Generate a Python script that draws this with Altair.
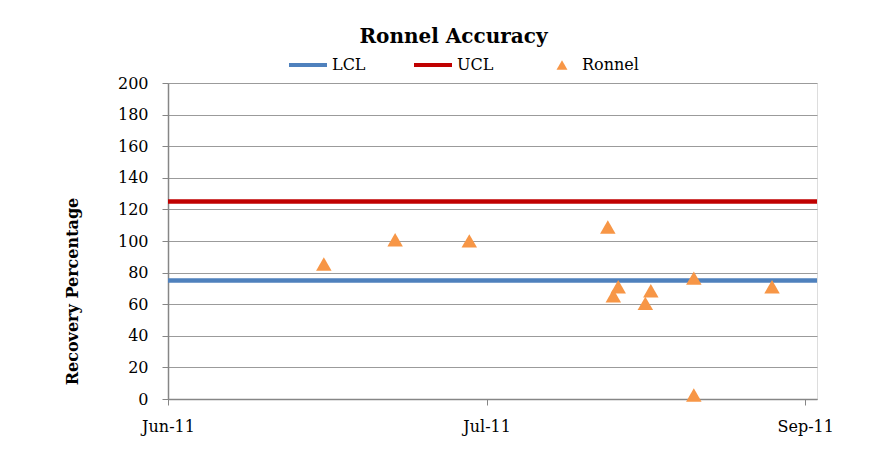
import altair as alt
import pandas as pd

# ---- data ----
limit_names = ["LCL", "UCL"]
limit_values = [75, 125]

sample_times = ["2011-06-23 12:00", "2011-07-03 19:00", "2011-07-14 12:00",
                "2011-08-03 12:00", "2011-08-04 07:00", "2011-08-05 00:00",
                "2011-08-08 22:00", "2011-08-09 17:00", "2011-08-15 22:00",
                "2011-08-15 22:00", "2011-08-27 05:00"]
recovery = [85.4, 100.8, 100.1, 108.9, 65.3, 71.0, 60.5, 68.5, 76.5, 2.5, 71.0]

tick_days = [0, 46, 92]
tick_labels = ["Jun-11", "Jul-11", "Sep-11"]
axis_start = "2011-06-01"
x_max_day = 93.7

origin = pd.Timestamp(axis_start)
pts = pd.DataFrame({
    "day": [(pd.Timestamp(d) - origin) / pd.Timedelta(days=1) for d in sample_times],
    "value": recovery,
    "series": ["Ronnel"] * len(recovery),
})
lims = pd.DataFrame({"series": limit_names, "value": limit_values})

FONT = "DejaVu Serif"
label_expr = " : ".join(
    [f"datum.value == {d} ? '{l}'" for d, l in zip(tick_days, tick_labels)]
) + " : ''"

x_axis = alt.Axis(values=tick_days, labelExpr=label_expr, grid=False, title=None,
                  tickSize=6, labelPadding=13, labelFont=FONT, labelFontSize=16,
                  labelColor="black", domainColor="#868686", tickColor="#868686",
                  domainWidth=1.5, labelFlush=False)
y_axis = alt.Axis(values=list(range(0, 201, 20)), title="Recovery Percentage",
                  titleFont=FONT, titleFontSize=16, titleFontWeight="bold",
                  titleColor="black", titleAngle=-90, titleX=-96, titleY=208,
                  titleAlign="center", titleBaseline="middle",
                  tickSize=6, labelPadding=14, labelFont=FONT, labelFontSize=16,
                  labelColor="black", domainColor="#868686", tickColor="#868686",
                  domainWidth=1.5, gridColor="#9B9B9B", gridWidth=1)

xscale = alt.Scale(domain=[0, x_max_day], nice=False, zero=False)
yscale = alt.Scale(domain=[0, 200], nice=False)

rules = alt.Chart(lims).mark_rule(strokeWidth=4.5).encode(
    y=alt.Y("value:Q", scale=yscale, axis=y_axis),
    stroke=alt.Stroke("series:N",
                      scale=alt.Scale(domain=limit_names, range=["#4F81BD", "#C00000"]),
                      legend=alt.Legend(title=None, orient="none", legendX=119, legendY=-39,
                                        direction="horizontal", columns=2,
                                        symbolType="stroke", symbolSize=1444,
                                        symbolStrokeWidth=4, labelOffset=3,
                                        columnPadding=37, gridAlign="all",
                                        labelFont=FONT, labelFontSize=16,
                                        labelColor="black")),
)

points = alt.Chart(pts).mark_point(filled=True, shape="triangle-up", size=240, opacity=1).encode(
    x=alt.X("day:Q", scale=xscale, axis=x_axis),
    y=alt.Y("value:Q", scale=yscale, axis=y_axis),
    fill=alt.Fill("series:N",
                  scale=alt.Scale(domain=["Ronnel"], range=["#F79646"]),
                  legend=alt.Legend(title=None, orient="none", legendX=386, legendY=-26,
                                    symbolType="triangle-up", symbolSize=120,
                                    labelOffset=12, labelFont=FONT, labelFontSize=16,
                                    labelColor="black")),
)

chart = alt.layer(rules, points).properties(
    width=649, height=316,
    title=alt.TitleParams("Ronnel Accuracy", font=FONT, fontSize=20, fontWeight="bold",
                          color="black", anchor="middle", dx=-39, dy=33, offset=14,
                          baseline="alphabetic"),
    autosize=alt.AutoSizeParams(type="none"),
    padding={"left": 160, "top": 75, "right": 55, "bottom": 50},
).configure_view(stroke=None).configure(background="white")

chart.save("out.html", embed_options={"renderer": "svg", "actions": False})
